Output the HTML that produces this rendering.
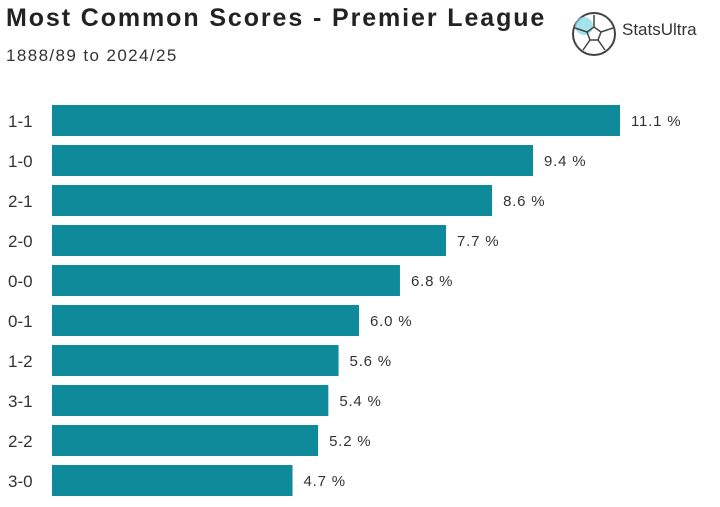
<!DOCTYPE html>
<html><head><meta charset="utf-8"><style>
body{margin:0;width:720px;height:507px;background:#fff;font-family:"Liberation Sans",sans-serif;position:relative;overflow:hidden}
#title{position:absolute;left:6px;top:4px;font-size:25px;font-weight:bold;color:#222;letter-spacing:1.9px}
#sub{position:absolute;left:6px;top:46px;font-size:17px;color:#333;letter-spacing:1.4px}
#logo{position:absolute;left:570px;top:10px}
#logotxt{position:absolute;left:622px;top:20px;font-size:17px;color:#333}
</style></head><body>
<div id="title">Most Common Scores - Premier League</div>
<div id="sub">1888/89 to 2024/25</div>
<svg id="logo" width="48" height="48">
<circle cx="24" cy="24" r="21" fill="#fff" stroke="#444" stroke-width="2"/>
<circle cx="14" cy="16" r="9" fill="#7fd6e3" opacity="0.7"/>
<polygon points="24,17 31,22 28,30 20,30 17,22" fill="none" stroke="#444" stroke-width="1.5"/>
<path d="M24 17V5M31 22L43 18M28 30L35 40M20 30L13 40M17 22L5 18" stroke="#444" stroke-width="1.5" fill="none"/>
</svg>
<div id="logotxt">StatsUltra</div>
<svg id="chart" width="720" height="507" style="position:absolute;left:0;top:0"></svg>
<script>
const categories=["1-1","1-0","2-1","2-0","0-0","0-1","1-2","3-1","2-2","3-0"];
const values=[11.1,9.4,8.6,7.7,6.8,6.0,5.6,5.4,5.2,4.7];
const valueLabels=["11.1 %","9.4 %","8.6 %","7.7 %","6.8 %","6.0 %","5.6 %","5.4 %","5.2 %","4.7 %"];
const svg=document.getElementById('chart');
const NS="http://www.w3.org/2000/svg";
const x0=52,pxPer=568/11.1;
function xs(v){return v*pxPer;}
function ys(i){return 105+i*40;}
categories.forEach((c,i)=>{
 const r=document.createElementNS(NS,'rect');
 r.setAttribute('x',x0);r.setAttribute('y',ys(i));r.setAttribute('width',xs(values[i]));r.setAttribute('height',31);r.setAttribute('fill','#0e8a9a');
 
 
 svg.appendChild(r);
 const t=document.createElementNS(NS,'text');
 t.setAttribute('x',8);t.setAttribute('y',ys(i)+22);t.setAttribute('font-size','17');t.setAttribute('fill','#333');t.textContent=c;
 
 
 svg.appendChild(t);
 const v=document.createElementNS(NS,'text');
 v.setAttribute('x',x0+xs(values[i])+11);v.setAttribute('y',ys(i)+21);v.setAttribute('font-size','15');v.setAttribute('fill','#333');v.setAttribute('letter-spacing','0.8');v.textContent=valueLabels[i];
 
 
 svg.appendChild(v);
});
</script>
</body></html>
